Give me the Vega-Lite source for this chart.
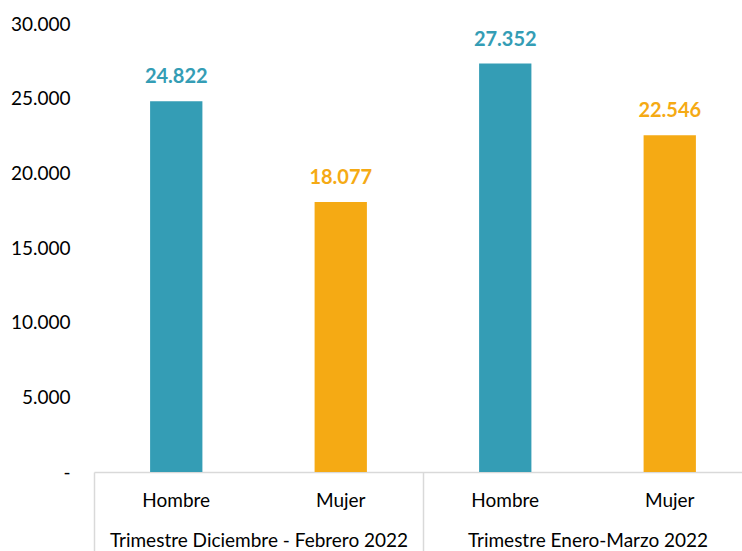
{
  "$schema": "https://vega.github.io/schema/vega-lite/v6.json",
  "width": 648,
  "height": 448,
  "autosize": {"type": "none"},
  "padding": {"left": 94, "top": 24, "right": 0, "bottom": 79},
  "background": "white",
  "config": {
    "view": {"stroke": null},
    "font": "Lato",
    "locale": {"number": {"decimal": ",", "thousands": ".", "grouping": [3], "currency": ["", ""]}}
  },
  "data": {
    "values": [
      {"grupo": "Trimestre Diciembre - Febrero 2022", "sexo": "Hombre", "key": "1 Hombre", "valor": 24822},
      {"grupo": "Trimestre Diciembre - Febrero 2022", "sexo": "Mujer", "key": "1 Mujer", "valor": 18077},
      {"grupo": "Trimestre Enero-Marzo 2022", "sexo": "Hombre", "key": "2 Hombre", "valor": 27352},
      {"grupo": "Trimestre Enero-Marzo 2022", "sexo": "Mujer", "key": "2 Mujer", "valor": 22546}
    ]
  },
  "layer": [
    {
      "encoding": {
        "x": {
          "field": "key", "type": "nominal", "sort": null,
          "scale": {"range": [0, 658], "paddingInner": 0, "paddingOuter": 0},
          "axis": {
            "orient": "bottom", "title": null, "ticks": false, "tickSize": 0,
            "labelAngle": 0, "labelExpr": "split(datum.value, ' ')[1]",
            "labelFontSize": 19, "labelColor": "#000000", "labelBaseline": "middle",
            "labelPadding": 28, "domainColor": "#d9d9d9", "domainWidth": 1.5
          }
        },
        "y": {
          "field": "valor", "type": "quantitative",
          "scale": {"domain": [0, 30000], "nice": false},
          "axis": {
            "title": null, "values": [0, 5000, 10000, 15000, 20000, 25000, 30000],
            "format": ",.0f", "labelExpr": "datum.value == 0 ? '-' : datum.label",
            "grid": false, "ticks": false, "domain": false,
            "labelFontSize": 19, "labelColor": "#000000", "labelPadding": 24
          }
        },
        "color": {
          "field": "sexo", "type": "nominal",
          "scale": {"domain": ["Hombre", "Mujer"], "range": ["#349db5", "#f5aa14"]},
          "legend": null
        }
      },
      "layer": [
        {"mark": {"type": "bar", "width": {"band": 0.318}}},
        {
          "mark": {"type": "text", "fontWeight": "bold", "fontSize": 20, "baseline": "alphabetic", "dy": -18},
          "encoding": {"text": {"field": "valor", "type": "quantitative", "format": ",.0f"}}
        }
      ]
    },
    {
      "mark": {"type": "tick", "opacity": 0},
      "encoding": {
        "x": {
          "field": "grupo", "type": "nominal", "sort": null,
          "scale": {"range": [0, 658], "paddingInner": 0, "paddingOuter": 0},
          "axis": {
            "orient": "bottom", "title": null, "tickBand": "extent", "tickSize": 79,
            "tickColor": "#d9d9d9", "tickWidth": 1.5, "domain": false,
            "labelAngle": 0, "labelFontSize": 19, "labelColor": "#000000", "labelLimit": 0,
            "labelBaseline": "middle", "labelPadding": -11
          }
        },
        "y": {"field": "valor", "type": "quantitative"}
      }
    }
  ],
  "resolve": {"scale": {"x": "independent"}}
}
